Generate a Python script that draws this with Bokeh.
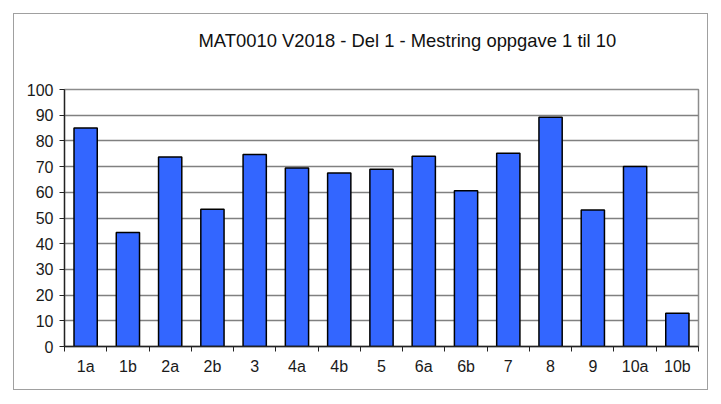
from bokeh.plotting import figure
from bokeh.models import Range1d, FixedTicker, Title, ColumnDataSource, LinearAxis
from bokeh.embed import file_html
from bokeh.resources import INLINE

categories = ["1a", "1b", "2a", "2b", "3", "4a", "4b", "5", "6a", "6b", "7", "8", "9", "10a", "10b"]
values = [85.0, 44.4, 73.7, 53.4, 74.7, 69.5, 67.5, 69.0, 74.0, 60.6, 75.2, 89.2, 53.1, 70.0, 12.9]
y_ticks = [0, 10, 20, 30, 40, 50, 60, 70, 80, 90, 100]
title_text = "MAT0010 V2018 - Del 1 - Mestring oppgave 1 til 10"

n = len(categories)
xs = [i + 0.5 for i in range(n)]
bounds = list(range(n + 1))
src = ColumnDataSource(dict(x=xs, top=values, cat=categories))

FONT = "Liberation Sans"
TXT = "#1a1a1a"

p = figure(width=695, height=377, output_backend="svg", toolbar_location=None,
           x_range=Range1d(0, n), y_range=Range1d(0, 100),
           min_border_left=50, min_border_right=11, min_border_top=75, min_border_bottom=45)
p.margin = (13, 0, 0, 13)
p.styles = {"border": "1.5px solid #a0a0a0", "box-sizing": "border-box"}
p.background_fill_color = "white"
p.border_fill_color = "white"
p.outline_line_color = "#8c8c8c"
p.outline_line_width = 1.5

p.vbar(x="x", top="top", width=0.55, bottom=0, source=src,
       fill_color="#3366FF", line_color="black", line_width=1.5)

# y axis
p.yaxis.ticker = FixedTicker(ticks=y_ticks)
p.yaxis.major_tick_out = 5
p.yaxis.major_tick_in = 0
p.yaxis.minor_tick_line_color = None
p.yaxis.axis_line_color = "#222222"
p.yaxis.axis_line_width = 1.3
p.yaxis.major_tick_line_color = "#222222"
p.yaxis.major_label_text_font = FONT
p.yaxis.major_label_text_font_size = "16px"
p.yaxis.major_label_text_color = TXT
p.yaxis.major_label_standoff = 6

# x axis (ticks at category boundaries, no labels)
p.xaxis.ticker = FixedTicker(ticks=bounds)
p.xaxis.major_label_overrides = {b: "" for b in bounds}
p.xaxis.major_label_text_font_size = "1px"
p.xaxis.major_label_standoff = 0
p.xaxis.major_tick_out = 5
p.xaxis.major_tick_in = 0
p.xaxis.minor_tick_line_color = None
p.xaxis.major_tick_line_color = "#222222"
p.xaxis.axis_line_color = "#222222"
p.xaxis.axis_line_width = 1.3

# label axis (labels at category centres)
lab = LinearAxis(ticker=FixedTicker(ticks=xs),
                 major_label_overrides={x: c for x, c in zip(xs, categories)},
                 axis_line_color=None, major_tick_line_color=None, minor_tick_line_color=None,
                 major_tick_out=0, major_tick_in=0,
                 major_label_text_font=FONT, major_label_text_font_size="16px",
                 major_label_text_color=TXT, major_label_standoff=6)
p.add_layout(lab, "below")

p.xgrid.grid_line_color = None
p.ygrid.ticker = FixedTicker(ticks=y_ticks)
p.ygrid.grid_line_color = "#808080"
p.ygrid.grid_line_width = 1.5

# spacer title (closest to the frame) to lift the real title
spacer = Title(text=" ", standoff=36, text_font_size="1px")
p.add_layout(spacer, "above")
t = Title(text=title_text, align="left", offset=134, standoff=0,
          text_font=FONT, text_font_size="18.4px", text_font_style="normal", text_color="#111111")
p.add_layout(t, "above")

open("out.html", "w").write(file_html(p, INLINE))
